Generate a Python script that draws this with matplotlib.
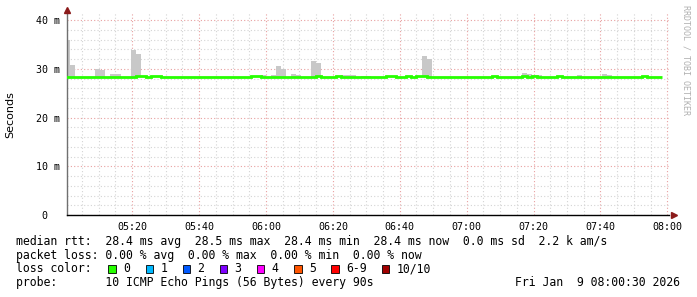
import numpy as np
import matplotlib
matplotlib.use("Agg")
import matplotlib.pyplot as plt
from matplotlib.ticker import MultipleLocator, FixedLocator
from matplotlib.patches import Rectangle

# ---- data (one bin every 90 s, starting 05:00:00; values in ms) ----
step_min = 1.5
median_ms = [
    28.4, 28.4, 28.4, 28.4, 28.4, 28.4, 28.4, 28.4, 28.4, 28.4,
    28.4, 28.4, 28.4, 28.4, 28.6, 28.6, 28.4, 28.6, 28.6, 28.4,
    28.4, 28.4, 28.4, 28.4, 28.4, 28.4, 28.4, 28.4, 28.4, 28.4,
    28.4, 28.4, 28.4, 28.4, 28.4, 28.4, 28.4, 28.6, 28.6, 28.4,
    28.4, 28.4, 28.4, 28.4, 28.4, 28.4, 28.4, 28.4, 28.4, 28.4,
    28.6, 28.4, 28.4, 28.4, 28.6, 28.4, 28.4, 28.4, 28.4, 28.4,
    28.4, 28.4, 28.4, 28.4, 28.6, 28.6, 28.4, 28.4, 28.6, 28.4,
    28.6, 28.6, 28.4, 28.4, 28.4, 28.4, 28.4, 28.4, 28.4, 28.4,
    28.4, 28.4, 28.4, 28.4, 28.4, 28.6, 28.4, 28.4, 28.4, 28.4,
    28.4, 28.6, 28.4, 28.6, 28.4, 28.4, 28.4, 28.4, 28.6, 28.4,
    28.4, 28.4, 28.4, 28.4, 28.4, 28.4, 28.4, 28.4, 28.4, 28.4,
    28.4, 28.4, 28.4, 28.4, 28.4, 28.6, 28.4, 28.4, 28.4,
]
# top of the smoke (max ping) per bin
smoke_top_ms = [
    35.9, 30.8, 28.4, 28.4, 28.4, 28.4, 29.9, 29.7, 28.4, 28.9,
    28.9, 28.4, 28.4, 33.8, 33.0, 28.6, 28.4, 28.6, 28.6, 28.4,
    28.4, 28.4, 28.4, 28.4, 28.4, 28.4, 28.4, 28.4, 28.4, 28.4,
    28.4, 28.4, 28.4, 28.4, 28.4, 28.4, 28.4, 28.6, 28.6, 28.7,
    28.4, 28.7, 30.6, 30.0, 28.4, 28.9, 28.7, 28.4, 28.4, 31.6,
    31.2, 28.4, 28.4, 28.4, 28.6, 28.8, 28.7, 28.7, 28.4, 28.6,
    28.6, 28.4, 28.4, 28.4, 28.6, 28.6, 28.4, 28.4, 28.6, 28.4,
    28.6, 32.6, 32.0, 28.4, 28.4, 28.4, 28.4, 28.4, 28.4, 28.4,
    28.4, 28.4, 28.4, 28.4, 28.4, 28.6, 28.4, 28.4, 28.4, 28.4,
    28.4, 29.1, 28.9, 28.7, 28.7, 28.4, 28.4, 28.4, 28.6, 28.4,
    28.4, 28.4, 28.7, 28.4, 28.4, 28.4, 28.4, 28.9, 28.7, 28.4,
    28.4, 28.4, 28.4, 28.4, 28.4, 28.6, 28.4, 28.4, 28.4,
]
x_tick_min = [20, 40, 60, 80, 100, 120, 140, 160, 180]
x_tick_labels = ["05:20", "05:40", "06:00", "06:20", "06:40", "07:00", "07:20", "07:40", "08:00"]
y_ticks = [0, 10, 20, 30, 40]
y_tick_labels = ["0  ", "10 m", "20 m", "30 m", "40 m"]

loss_labels = ["0", "1", "2", "3", "4", "5", "6-9", "10/10"]
loss_colors = ["#26ff00", "#00b8ff", "#0059ff", "#7e00ff", "#ff00ff", "#ff5500", "#ff0000", "#a10000"]
loss_box_x = [108, 145.5, 182.5, 219.5, 256.5, 294, 331, 381.5]

legend_lines = [
    "median rtt:  28.4 ms avg  28.5 ms max  28.4 ms min  28.4 ms now  0.0 ms sd  2.2 k am/s",
    "packet loss: 0.00 % avg  0.00 % max  0.00 % min  0.00 % now",
    "loss color:",
    "probe:       10 ICMP Echo Pings (56 Bytes) every 90s",
]
stamp = "Fri Jan  9 08:00:30 2026"

W, H = 697, 297
MONO = "DejaVu Sans Mono"


def fx(x):
    return x / W


def fy(y):
    return 1 - y / H


fig = plt.figure(figsize=(W / 100, H / 100), dpi=100)
ax = fig.add_axes([fx(67), fy(215), (669 - 67) / W, (215 - 13) / H])

med = np.array(median_ms)
top = np.array(smoke_top_ms)
edges = np.arange(len(med) + 1) * step_min
starts = edges[:-1]

# smoke
ax.bar(starts, top - med, bottom=med, width=step_min, align="edge",
       color="#c8c8c8", linewidth=0, zorder=2)
# median line
ax.stairs(med, edges, baseline=None, color="#26ff00", linewidth=2.0, zorder=3)

ax.set_xlim(0.5, 180.5)
ax.set_ylim(0, 41.45)

ax.xaxis.set_major_locator(FixedLocator(x_tick_min))
ax.set_xticklabels(x_tick_labels, fontfamily=MONO, fontsize=7.2)
ax.xaxis.set_minor_locator(MultipleLocator(5))
ax.set_yticks(y_ticks)
ax.set_yticklabels(y_tick_labels, fontfamily=MONO, fontsize=7.2)
ax.yaxis.set_minor_locator(MultipleLocator(2))

ax.tick_params(axis="both", which="both", length=0)
ax.tick_params(axis="x", pad=5)
ax.tick_params(axis="y", pad=5)

ax.grid(which="minor", color="#d4d4d4", linestyle=(0, (1, 2)), linewidth=0.8, zorder=0)
ax.grid(which="major", color="#e8a0a0", linestyle=(0, (1, 2)), linewidth=0.8, zorder=1)
ax.set_axisbelow(True)

for s in ["top", "right"]:
    ax.spines[s].set_visible(False)
ax.spines["left"].set_color("#707070")
ax.spines["left"].set_linewidth(1.0)
ax.spines["bottom"].set_color("black")
ax.spines["bottom"].set_linewidth(1.0)

# axis arrows
ax.plot([0], [1.015], marker="^", color="#8b1a1a", markersize=4,
        transform=ax.transAxes, clip_on=False, zorder=5)
ax.plot([1.008], [0], marker=">", color="#8b1a1a", markersize=4,
        transform=ax.transAxes, clip_on=False, zorder=5)

fig.text(fx(10), fy(115), "Seconds", rotation=90, ha="center", va="center",
         fontsize=8, color="black")

fig.text(fx(686), fy(5), "RRDTOOL / TOBI OETIKER", rotation=270, ha="center", va="top",
         fontfamily=MONO, fontsize=6, color="#b0b0b0")

row_y = [241.3, 255, 268.7, 282.3]
for line, y in zip(legend_lines, row_y):
    fig.text(fx(16), fy(y), line, ha="left", va="center", fontfamily=MONO, fontsize=8.3)

for lbl, col, bx in zip(loss_labels, loss_colors, loss_box_x):
    fig.patches.append(Rectangle((fx(bx), fy(272.5)), 7.5 / W, 7.5 / H,
                                 transform=fig.transFigure, facecolor=col,
                                 edgecolor="black", linewidth=0.6))
    fig.text(fx(bx + 15), fy(268.7), lbl, ha="left", va="center",
             fontfamily=MONO, fontsize=8.3)

fig.text(fx(680), fy(282.3), stamp, ha="right", va="center", fontfamily=MONO, fontsize=8.3)

fig.savefig("out.png", dpi=100)
